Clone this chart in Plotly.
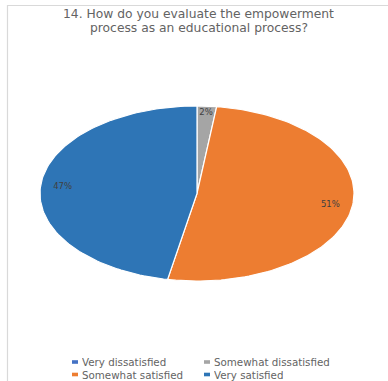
import math
import plotly.graph_objects as go

# Survey answers for question 14
categories = ["Very dissatisfied", "Somewhat dissatisfied", "Somewhat satisfied", "Very satisfied"]
shares = [0, 2, 51, 47]  # percent
colors = ["#4472C4", "#A5A5A5", "#ED7D31", "#2E75B6"]
title_lines = ["14. How do you evaluate the empowerment", "process as an educational process?"]

W, H = 388, 381
fig = go.Figure()

# Pie slices drawn as filled wedges, clockwise from 12 o'clock
total = sum(shares)
start = 0.0
label_x, label_y, label_t = [], [], []
for name, val, col in zip(categories, shares, colors):
    if val <= 0:
        continue
    a0 = start / total * 2 * math.pi
    a1 = (start + val) / total * 2 * math.pi
    n = max(4, int(240 * val / total))
    xs, ys = [0.0], [0.0]
    for k in range(n + 1):
        a = a0 + (a1 - a0) * k / n
        xs.append(math.sin(a))
        ys.append(math.cos(a))
    xs.append(0.0)
    ys.append(0.0)
    fig.add_trace(go.Scatter(
        x=xs, y=ys, mode="lines", fill="toself", fillcolor=col,
        line=dict(color="white", width=1.2), name=name,
        hoverinfo="name", showlegend=False,
    ))
    am = (a0 + a1) / 2
    r = 0.92 if val < 5 else 0.86
    label_x.append(r * math.sin(am))
    label_y.append(r * math.cos(am))
    label_t.append(f"{val}%")
    start += val

fig.add_trace(go.Scatter(
    x=label_x, y=label_y, text=label_t, mode="text",
    textfont=dict(family="DejaVu Sans", size=8.5, color="#404040"),
    hoverinfo="skip", showlegend=False,
))

fig.update_xaxes(range=[-1, 1], domain=[40 / W, 354 / W], visible=False, fixedrange=True)
fig.update_yaxes(range=[-1, 1], domain=[100 / H, 275 / H], visible=False, fixedrange=True)

# Chart frame
fig.add_shape(type="rect", xref="paper", yref="paper",
              x0=7.5 / W, x1=1.2, y0=-0.2, y1=1 - 5.5 / H,
              line=dict(color="#D9D9D9", width=1.2), fillcolor="rgba(0,0,0,0)", layer="below")

# Title, one annotation per line
for i, line in enumerate(title_lines):
    fig.add_annotation(text=line, xref="paper", yref="paper",
                       x=199 / W, y=1 - (13.5 + 15 * i) / H, xanchor="center", yanchor="middle",
                       showarrow=False, align="center", height=14,
                       font=dict(family="DejaVu Sans", size=12.3, color="#636363"))

# Legend: two columns, two rows
col_x = [72, 204]
row_y = [362, 374.5]
for i, (name, col) in enumerate(zip(categories, colors)):
    cx = col_x[i % 2]
    cy = row_y[i // 2]
    fig.add_shape(type="rect", xref="paper", yref="paper",
                  x0=cx / W, x1=(cx + 6) / W,
                  y0=1 - (cy + 1.8) / H, y1=1 - (cy - 1.8) / H,
                  line=dict(width=0), fillcolor=col)
    fig.add_annotation(text=name, xref="paper", yref="paper",
                       x=(cx + 8) / W, y=1 - cy / H, xanchor="left", yanchor="middle",
                       showarrow=False, height=12,
                       font=dict(family="DejaVu Sans", size=10.3, color="#636363"))

fig.update_layout(
    width=W, height=H,
    margin=dict(l=0, r=0, t=0, b=0),
    paper_bgcolor="white", plot_bgcolor="white",
    showlegend=False,
)

fig.write_html("out.html")
